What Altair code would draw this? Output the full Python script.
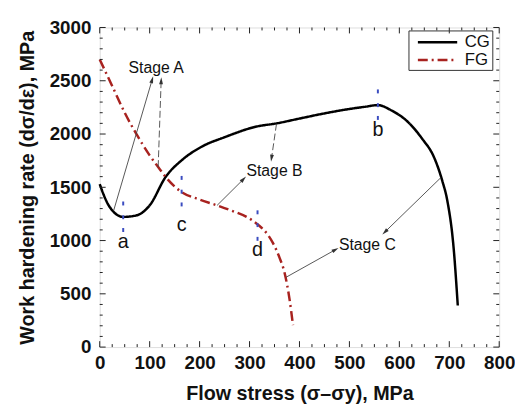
import math
import altair as alt
import pandas as pd

# ---------------- data ----------------
cg_x = [0, 7, 15, 28, 47, 74, 100, 132, 166, 205, 250, 314, 354, 400, 446, 500, 530, 557,
        584, 617, 645, 670, 686, 696, 709, 717]
cg_y = [1530, 1440, 1355, 1268, 1222, 1237, 1330, 1597, 1761, 1883, 1970, 2070, 2100, 2145,
        2190, 2235, 2255, 2271, 2222, 2114, 1960, 1776, 1560, 1376, 914, 390]

fg_x = [0, 28, 50, 73, 100, 117, 132, 164, 196, 235, 270, 294, 318, 335, 347, 360, 370, 380, 387]
fg_y = [2700, 2420, 2200, 2003, 1800, 1690, 1597, 1455, 1391, 1330, 1270, 1222, 1145, 1065,
        976, 840, 700, 452, 206]

series = ["CG", "FG"]
series_colors = ["#000000", "#a8221f"]

# point markers (blue dotted marks) and their letters
mark_x = [47, 47, 47, 557, 557, 557, 164, 164, 164, 316, 316, 316]
mark_y = [1099, 1219, 1348, 2151, 2271, 2400, 1339, 1459, 1588, 1016, 1145, 1265]
letter_txt = ["a", "b", "c", "d"]
letter_x = [47, 557, 164, 316]
letter_y = [988, 2040, 1145, 914]

# stage annotations
stage_txt = ["Stage A", "Stage B", "Stage C"]
stage_x = [113, 350, 536]
stage_y = [2622, 1653, 960]

# arrows: start -> tip, dashed flag
arr_x1 = [28, 117, 235, 354, 373, 683]
arr_y1 = [1283, 1690, 1330, 2096, 655, 1590]
arr_x2 = [105, 123, 288, 344, 472, 571]
arr_y2 = [2510, 2500, 1577, 1773, 914, 1080]
arr_dash = [False, True, False, True, False, False]

x_major = list(range(0, 801, 100))
x_minor = [v for v in range(0, 801, 25) if v % 100]
y_major = list(range(0, 3001, 500))
y_minor = [v for v in range(0, 3001, 100) if v % 500]

# ---------------- layout ----------------
W, H = 405, 324
XMAX, YMAX = 800, 3000
kx, ky = W / XMAX, H / YMAX
FONT = "Liberation Sans"

xs = alt.Scale(domain=[0, XMAX], nice=False, zero=False)
ys = alt.Scale(domain=[0, YMAX], nice=False, zero=False)

xaxis = alt.Axis(values=x_major, format="d", title="Flow stress (σ–σy), MPa", tickSize=0,
                 domain=False, grid=False, labelFontSize=19, labelFontWeight="bold",
                 labelPadding=7, titleFontSize=20, titleFontWeight="bold", titlePadding=11,
                 labelColor="#111", titleColor="#111", labelFlush=False)
yaxis = alt.Axis(values=y_major, format="d", title="Work hardening rate (dσ/dε), MPa",
                 tickSize=0, domain=False, grid=False, labelFontSize=19,
                 labelFontWeight="bold", labelPadding=9, titleFontSize=20,
                 titleFontWeight="bold", titlePadding=12, labelColor="#111",
                 titleColor="#111", labelFlush=False)


def X(f):
    return alt.X(f, scale=xs, axis=xaxis)


def Y(f):
    return alt.Y(f, scale=ys, axis=yaxis)


lines = pd.DataFrame({
    "x": cg_x + fg_x,
    "y": cg_y + fg_y,
    "series": ["CG"] * len(cg_x) + ["FG"] * len(fg_x),
})

legend = alt.Legend(title=None, orient="none", legendX=313, legendY=3,
                    symbolType="M-0.29,0H4.4", symbolSize=289, symbolStrokeWidth=2.5,
                    symbolFillColor="transparent", labelFontSize=17, labelFont=FONT,
                    labelColor="#111", strokeColor="#333", padding=2, rowPadding=0,
                    labelOffset=35)

curves = alt.Chart(lines).mark_line(strokeWidth=2.5, interpolate="monotone").encode(
    x=X("x:Q"),
    y=Y("y:Q"),
    color=alt.Color("series:N", scale=alt.Scale(domain=series, range=series_colors),
                    legend=legend),
    strokeDash=alt.StrokeDash("series:N",
                              scale=alt.Scale(domain=series, range=[[1, 0], [10, 4, 2, 4]]),
                              legend=legend),
)


# ticks pointing inward
def xticks(vals, ln):
    d = pd.DataFrame({"v": vals})
    b = alt.Chart(d).mark_rule(color="#222", strokeWidth=1).encode(
        x=X("v:Q"), y=alt.value(H), y2=alt.value(H - ln))
    t = alt.Chart(d).mark_rule(color="#222", strokeWidth=1).encode(
        x=X("v:Q"), y=alt.value(0), y2=alt.value(ln))
    return [b, t]


def yticks(vals, ln):
    d = pd.DataFrame({"v": vals})
    l = alt.Chart(d).mark_rule(color="#222", strokeWidth=1).encode(
        y=Y("v:Q"), x=alt.value(0), x2=alt.value(ln))
    r = alt.Chart(d).mark_rule(color="#222", strokeWidth=1).encode(
        y=Y("v:Q"), x=alt.value(W), x2=alt.value(W - ln))
    return [l, r]


tick_layers = xticks(x_major, 6) + xticks(x_minor, 3) + yticks(y_major, 6) + yticks(y_minor, 3)

# markers
marks_df = pd.DataFrame({"x": mark_x, "y": mark_y})
markers = alt.Chart(marks_df).mark_point(
    shape="M-0.5,-1L0.5,-1L0.5,1L-0.5,1Z", size=16, filled=True, color="#3a4cc0", opacity=1
).encode(x=X("x:Q"), y=Y("y:Q"))

letters = alt.Chart(pd.DataFrame({"x": letter_x, "y": letter_y, "t": letter_txt})).mark_text(
    fontSize=20, font=FONT, color="#111", baseline="middle", align="center"
).encode(x=X("x:Q"), y=Y("y:Q"), text="t:N")

stages = alt.Chart(pd.DataFrame({"x": stage_x, "y": stage_y, "t": stage_txt})).mark_text(
    fontSize=16, font=FONT, color="#111", baseline="middle", align="center"
).encode(x=X("x:Q"), y=Y("y:Q"), text="t:N")

arr = pd.DataFrame({"x1": arr_x1, "y1": arr_y1, "x2": arr_x2, "y2": arr_y2, "dash": arr_dash})
arr["ang"] = [
    (math.degrees(math.atan2((b - a) * kx, (d - c) * ky)) + 360) % 360
    for a, b, c, d in zip(arr_x1, arr_x2, arr_y1, arr_y2)
]

solid_arr = alt.Chart(arr[~arr["dash"]]).mark_rule(color="#444", strokeWidth=0.9).encode(
    x=X("x1:Q"), y=Y("y1:Q"), x2="x2:Q", y2="y2:Q")
dash_arr = alt.Chart(arr[arr["dash"]]).mark_rule(color="#444", strokeWidth=0.9,
                                                  strokeDash=[7, 3]).encode(
    x=X("x1:Q"), y=Y("y1:Q"), x2="x2:Q", y2="y2:Q")
heads = alt.Chart(arr).mark_point(shape="M0,-1L0.55,1L-0.55,1Z", size=50, filled=True,
                                  color="#333", opacity=1).encode(
    x=X("x2:Q"), y=Y("y2:Q"), angle=alt.Angle("ang:Q", scale=None))

chart = alt.layer(
    curves, *tick_layers, solid_arr, dash_arr, heads, markers, letters, stages
).properties(
    width=W, height=H,
    autosize=alt.AutoSizeParams(type="none"),
    padding={"left": 93, "top": 17, "right": 16, "bottom": 59},
).configure_view(stroke="#222", strokeWidth=1.5).configure(font=FONT)

chart.save("out.html", embed_options={"renderer": "svg", "actions": False})
